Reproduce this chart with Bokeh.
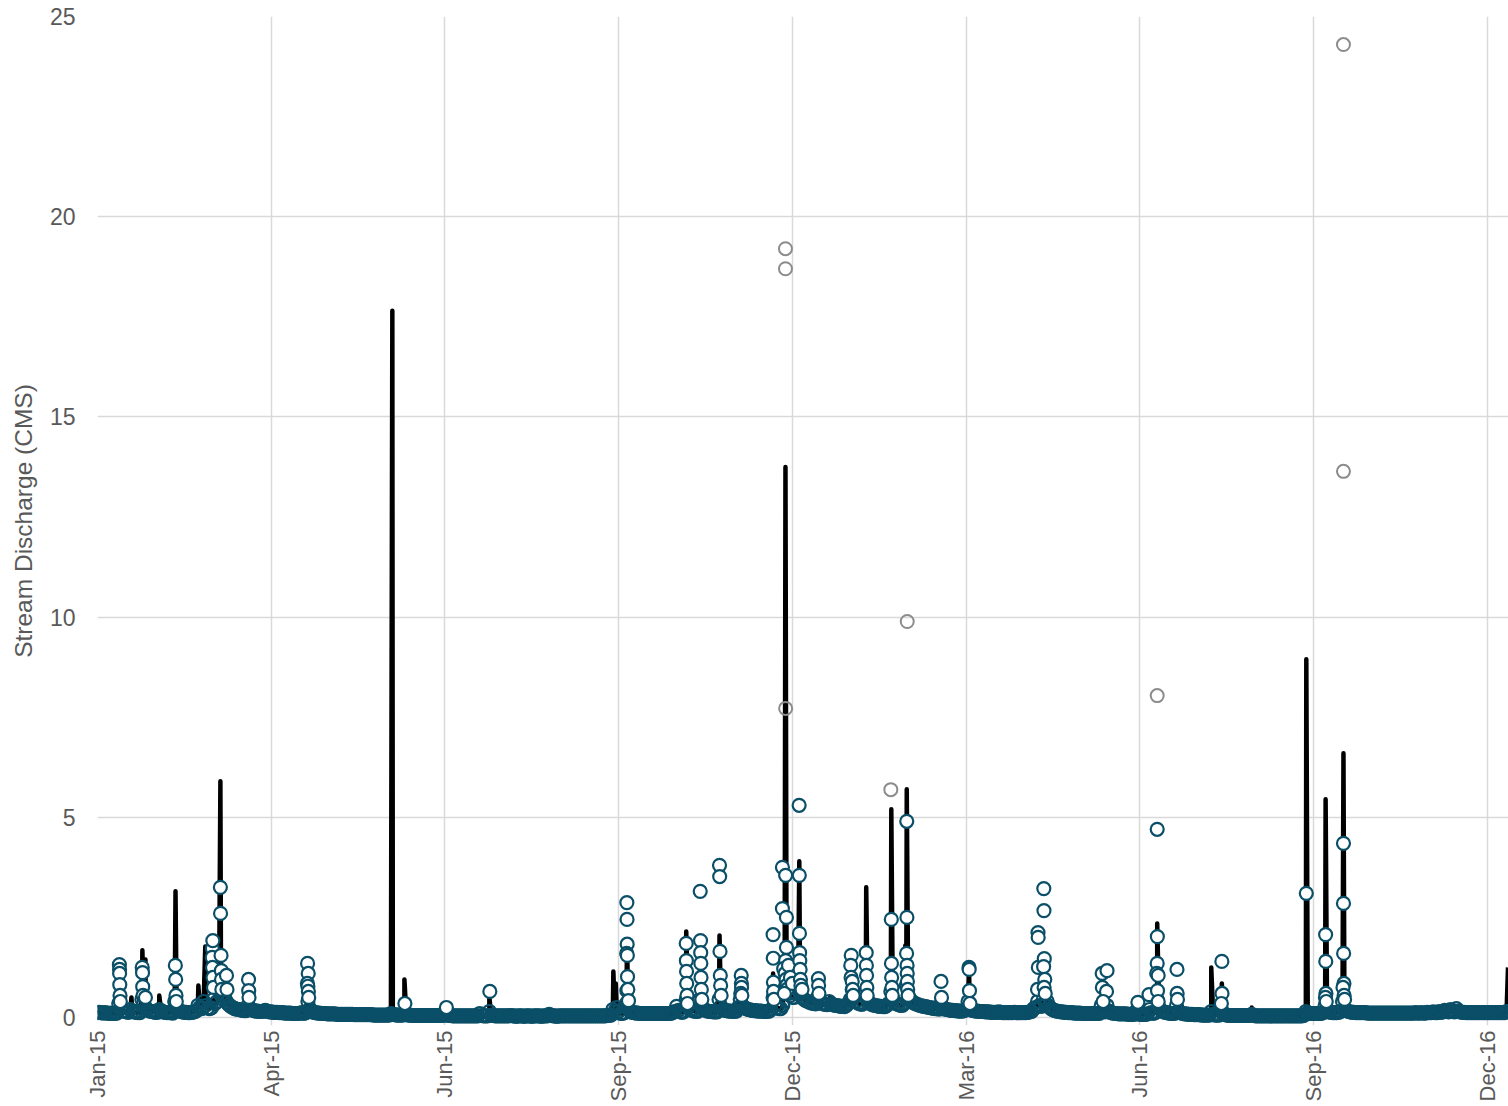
import pandas as pd
from math import pi
from bokeh.plotting import figure
from bokeh.models import Range1d, FixedTicker, ColumnDataSource
from bokeh.embed import file_html
from bokeh.resources import INLINE

# ---------------- data ----------------
# daily baseline discharge (CMS), one list per month
baseline_2015 = [
    [0.12,0.13,0.12,0.11,0.12,0.11,0.10,0.11,0.10,0.10,0.11,0.35,0.22,0.17,0.15,0.14,0.13,0.20,0.16,0.14,0.13,0.12,0.12,0.45,0.35,0.24,0.19,0.16,0.15,0.14,0.13],
    [0.13,0.20,0.16,0.14,0.13,0.12,0.12,0.12,0.11,0.40,0.25,0.18,0.15,0.14,0.13,0.13,0.12,0.12,0.13,0.14,0.16,0.30,0.25,0.22,0.40,0.30,0.24,0.22],
    [0.24,0.45,0.35,0.40,0.80,0.55,0.45,0.50,0.38,0.32,0.28,0.25,0.22,0.21,0.20,0.19,0.18,0.17,0.17,0.30,0.22,0.19,0.17,0.16,0.16,0.15,0.15,0.16,0.18,0.15,0.14],
    [0.14,0.13,0.13,0.13,0.12,0.12,0.12,0.11,0.11,0.11,0.11,0.10,0.10,0.10,0.10,0.11,0.12,0.10,0.12,0.40,0.22,0.16,0.13,0.12,0.11,0.11,0.10,0.10,0.10,0.09],
    [0.09,0.09,0.09,0.09,0.08,0.08,0.08,0.08,0.08,0.08,0.08,0.08,0.08,0.07,0.07,0.07,0.07,0.07,0.07,0.07,0.07,0.07,0.07,0.06,0.06,0.06,0.06,0.06,0.06,0.06,0.06],
    [0.06,0.10,0.08,0.07,0.06,0.06,0.06,0.06,0.12,0.08,0.06,0.06,0.05,0.05,0.05,0.05,0.05,0.05,0.05,0.05,0.05,0.05,0.05,0.05,0.05,0.05,0.05,0.05,0.05,0.12],
    [0.06,0.05,0.05,0.04,0.04,0.04,0.04,0.04,0.04,0.04,0.04,0.04,0.04,0.04,0.04,0.04,0.04,0.10,0.05,0.04,0.04,0.04,0.15,0.06,0.05,0.04,0.04,0.04,0.04,0.04,0.04],
    [0.04,0.04,0.05,0.04,0.04,0.03,0.04,0.04,0.04,0.03,0.04,0.04,0.04,0.03,0.04,0.04,0.04,0.04,0.03,0.04,0.04,0.04,0.08,0.05,0.04,0.04,0.03,0.04,0.04,0.04,0.04],
    [0.04,0.04,0.04,0.04,0.04,0.04,0.04,0.04,0.04,0.04,0.04,0.04,0.04,0.04,0.04,0.04,0.04,0.04,0.04,0.04,0.04,0.05,0.05,0.06,0.20,0.15,0.25,0.15,0.10,0.10],
    [0.12,0.35,0.20,0.15,0.13,0.12,0.11,0.11,0.10,0.10,0.10,0.10,0.10,0.10,0.10,0.10,0.10,0.10,0.10,0.10,0.10,0.10,0.10,0.10,0.10,0.12,0.15,0.28,0.18,0.14,0.13],
    [0.15,0.45,0.25,0.20,0.18,0.16,0.15,0.15,0.45,0.28,0.22,0.18,0.16,0.15,0.15,0.14,0.14,0.14,0.45,0.28,0.20,0.18,0.17,0.16,0.16,0.15,0.15,0.16,0.25,0.45],
    [0.30,0.25,0.22,0.20,0.19,0.18,0.17,0.17,0.16,0.16,0.16,0.15,0.15,0.15,0.16,0.20,0.50,0.30,0.25,0.22,0.22,0.30,0.90,0.70,0.60,0.55,0.50,0.50,0.60,0.90,0.60],
]
baseline_2016 = [
    [0.50,0.45,0.42,0.40,0.38,0.36,0.35,0.34,0.50,0.40,0.36,0.34,0.33,0.32,0.40,0.34,0.32,0.30,0.30,0.29,0.28,0.28,0.27,0.30,0.35,0.45,0.70,0.50,0.40,0.36,0.34],
    [0.33,0.36,0.60,0.42,0.36,0.33,0.31,0.30,0.29,0.28,0.28,0.27,0.27,0.30,0.35,0.65,0.45,0.38,0.34,0.32,0.30,0.30,0.35,0.80,0.55,0.45,0.40,0.36,0.34],
    [0.32,0.30,0.29,0.28,0.27,0.26,0.25,0.24,0.23,0.22,0.22,0.21,0.35,0.25,0.21,0.20,0.19,0.18,0.18,0.17,0.17,0.16,0.16,0.16,0.17,0.20,0.40,0.22,0.18,0.17,0.16],
    [0.16,0.15,0.15,0.15,0.14,0.14,0.14,0.13,0.13,0.13,0.13,0.14,0.13,0.12,0.12,0.12,0.12,0.12,0.12,0.13,0.12,0.12,0.12,0.12,0.12,0.12,0.13,0.14,0.15,0.22],
    [0.25,0.40,0.30,0.28,0.45,0.35,0.40,0.28,0.22,0.19,0.17,0.16,0.15,0.14,0.14,0.13,0.13,0.12,0.12,0.12,0.11,0.11,0.11,0.11,0.10,0.10,0.10,0.10,0.10,0.10,0.10],
    [0.10,0.10,0.10,0.30,0.18,0.14,0.30,0.16,0.12,0.11,0.10,0.10,0.09,0.09,0.09,0.09,0.09,0.08,0.08,0.08,0.08,0.15,0.10,0.08,0.08,0.08,0.08,0.09,0.20,0.12],
    [0.10,0.12,0.45,0.25,0.18,0.15,0.13,0.12,0.11,0.10,0.10,0.10,0.30,0.15,0.12,0.10,0.09,0.09,0.08,0.08,0.08,0.07,0.07,0.07,0.07,0.06,0.06,0.06,0.06,0.06,0.15],
    [0.08,0.06,0.06,0.06,0.25,0.12,0.08,0.06,0.05,0.05,0.05,0.05,0.05,0.05,0.05,0.05,0.05,0.05,0.05,0.05,0.08,0.05,0.04,0.04,0.04,0.04,0.04,0.04,0.04,0.04,0.04],
    [0.04,0.04,0.04,0.04,0.04,0.04,0.04,0.04,0.04,0.04,0.04,0.04,0.04,0.04,0.04,0.04,0.05,0.15,0.12,0.10,0.10,0.10,0.10,0.10,0.10,0.10,0.12,0.30,0.18,0.14],
    [0.13,0.12,0.12,0.12,0.13,0.15,0.40,0.22,0.17,0.15,0.14,0.13,0.13,0.12,0.12,0.12,0.12,0.12,0.12,0.11,0.11,0.11,0.11,0.11,0.11,0.11,0.11,0.11,0.11,0.11,0.11],
    [0.11,0.11,0.11,0.11,0.11,0.11,0.11,0.11,0.11,0.11,0.11,0.11,0.11,0.12,0.11,0.11,0.12,0.11,0.11,0.13,0.12,0.12,0.14,0.12,0.12,0.15,0.13,0.14,0.18,0.15],
    [0.14,0.20,0.15,0.14,0.22,0.16,0.14,0.13,0.13,0.12,0.12,0.12,0.12,0.12,0.12,0.12,0.12,0.12,0.12,0.12,0.12,0.12,0.12,0.12,0.12,0.12,0.12,0.12,0.12,0.12,0.15],
]

# storm-flow observations (teal markers)
storm_dates = [
    "2015-01-12 08:00","2015-01-12 10:00","2015-01-12 11:00","2015-01-12 13:00","2015-01-12 16:00","2015-01-12 20:00",
    "2015-01-24 04:00","2015-01-24 08:00","2015-01-24 10:00","2015-01-24 14:00","2015-01-25 20:00",
    "2015-02-10 08:00","2015-02-10 12:00","2015-02-10 16:00","2015-02-10 20:00",
    "2015-03-01 12:00","2015-03-01 18:00","2015-03-01 10:00","2015-03-01 14:00","2015-03-01 20:00","2015-03-02 02:00",
    "2015-03-05 16:00","2015-03-05 18:00","2015-03-06 00:00","2015-03-06 04:00","2015-03-06 06:00","2015-03-06 10:00",
    "2015-03-08 20:00","2015-03-09 02:00",
    "2015-03-20 06:00","2015-03-20 08:00","2015-03-20 12:00",
    "2015-04-19 20:00","2015-04-20 04:00","2015-04-19 18:00","2015-04-20 00:00","2015-04-20 06:00","2015-04-20 10:00",
    "2015-06-09 06:00","2015-06-30 18:00","2015-07-23 06:00",
    "2015-10-02 06:00","2015-10-02 08:00","2015-10-02 10:00","2015-10-02 04:00","2015-10-02 12:00","2015-10-02 14:00","2015-10-02 06:00","2015-10-02 18:00","2015-10-03 02:00",
    "2015-11-02 00:00","2015-11-02 02:00","2015-11-02 04:00","2015-11-02 06:00","2015-11-02 10:00","2015-11-02 16:00",
    "2015-11-09 06:00","2015-11-09 10:00","2015-11-09 12:00","2015-11-09 14:00","2015-11-09 16:00","2015-11-09 20:00","2015-11-10 02:00",
    "2015-11-19 06:00","2015-11-19 08:00","2015-11-19 12:00","2015-11-19 16:00","2015-11-19 20:00","2015-11-20 02:00",
    "2015-11-30 12:00","2015-11-30 14:00","2015-11-30 16:00","2015-11-30 06:00","2015-11-30 20:00",
    "2015-12-17 00:00","2015-12-17 02:00","2015-12-17 04:00","2015-12-17 06:00","2015-12-17 10:00",
    "2015-12-21 20:00","2015-12-21 20:00","2015-12-23 12:00","2015-12-23 22:00","2015-12-23 22:00","2015-12-23 12:00",
    "2015-12-22 12:00","2015-12-23 06:00","2015-12-23 18:00","2015-12-24 02:00","2015-12-24 06:00","2015-12-22 20:00",
    "2015-12-25 00:00","2015-12-26 00:00","2015-12-27 00:00",
    "2015-12-30 12:00","2015-12-30 14:00","2015-12-30 16:00","2015-12-30 18:00","2015-12-30 20:00","2015-12-31 00:00","2015-12-31 04:00","2015-12-31 10:00","2016-01-01 00:00",
    "2016-01-09 12:00","2016-01-09 14:00","2016-01-09 18:00",
    "2016-01-26 12:00","2016-01-26 06:00","2016-01-26 10:00","2016-01-27 00:00","2016-01-27 06:00","2016-01-27 12:00",
    "2016-02-03 06:00","2016-02-03 08:00","2016-02-03 10:00","2016-02-03 14:00","2016-02-03 18:00",
    "2016-02-16 06:00","2016-02-16 08:00","2016-02-16 10:00","2016-02-16 14:00","2016-02-16 18:00",
    "2016-02-24 06:00","2016-02-24 08:00","2016-02-24 04:00","2016-02-24 10:00","2016-02-24 12:00","2016-02-24 14:00","2016-02-24 18:00","2016-02-25 00:00",
    "2016-03-13 00:00","2016-03-13 06:00",
    "2016-03-27 12:00","2016-03-27 14:00","2016-03-27 18:00","2016-03-28 00:00",
    "2016-05-02 06:00","2016-05-02 08:00","2016-05-02 10:00","2016-05-02 00:00",
    "2016-05-05 06:00","2016-05-05 08:00","2016-05-05 12:00","2016-05-05 04:00","2016-05-05 18:00","2016-05-05 10:00","2016-05-06 00:00",
    "2016-06-04 12:00","2016-06-07 00:00","2016-06-04 14:00","2016-06-06 18:00","2016-06-05 00:00",
    "2016-06-23 00:00","2016-06-28 18:00",
    "2016-07-03 00:00","2016-07-03 02:00","2016-07-03 00:00","2016-07-02 18:00","2016-07-03 12:00","2016-07-03 04:00","2016-07-03 12:00",
    "2016-07-13 06:00","2016-07-13 08:00","2016-07-13 12:00",
    "2016-08-05 12:00","2016-08-05 14:00","2016-08-05 06:00",
    "2016-09-18 06:00",
    "2016-09-28 06:00","2016-09-28 08:00","2016-09-28 10:00","2016-09-28 04:00","2016-09-28 14:00",
    "2016-10-07 12:00","2016-10-07 12:00","2016-10-07 14:00","2016-10-07 18:00","2016-10-07 06:00","2016-10-07 20:00","2016-10-08 02:00",
]
storm_values = [
    1.32,1.20,1.10,0.82,0.55,0.40,
    1.25,1.12,0.77,0.55,0.50,
    1.30,0.95,0.55,0.40,
    1.72,1.92,1.50,1.25,1.00,0.75,
    3.25,2.60,1.55,1.17,0.95,0.70,
    1.05,0.70,
    0.95,0.67,0.50,
    1.35,1.10,0.85,0.78,0.65,0.50,
    0.35,0.25,0.65,
    2.87,2.45,1.83,1.60,1.55,1.02,0.67,0.70,0.42,
    1.85,1.42,1.15,0.85,0.55,0.35,
    3.15,1.92,1.62,1.35,1.00,0.70,0.45,
    3.80,3.52,1.65,1.05,0.80,0.55,
    1.05,0.85,0.75,0.60,0.55,
    2.07,1.48,0.88,0.65,0.45,
    3.75,2.72,3.55,2.50,1.75,1.42,
    1.22,1.10,0.95,0.80,0.70,0.60,
    1.30,1.00,0.85,
    5.30,3.55,2.10,1.62,1.42,1.20,0.95,0.80,0.70,
    0.97,0.80,0.60,
    1.55,1.30,1.00,0.90,0.70,0.55,
    1.62,1.30,1.05,0.75,0.55,
    2.45,1.35,1.00,0.75,0.55,
    4.90,2.50,1.60,1.30,1.10,0.90,0.70,0.55,
    0.90,0.50,
    1.25,1.20,0.67,0.35,
    2.12,2.00,1.25,0.70,
    3.22,2.67,1.47,1.27,0.95,0.75,0.60,
    1.10,1.17,0.75,0.65,0.40,
    0.38,0.57,
    4.70,2.02,1.35,1.10,1.05,0.67,0.40,
    1.20,0.60,0.45,
    1.40,0.60,0.35,
    3.10,
    2.07,1.40,0.60,0.50,0.40,
    4.35,2.85,1.60,0.85,0.75,0.55,0.45,
]

# continuous-record storm peaks (black line)
peak_dates = [
    "2015-01-12 10:00","2015-01-18 14:00","2015-01-24 06:00","2015-01-25 20:00","2015-02-02 00:00",
    "2015-02-10 10:00","2015-02-22 06:00","2015-02-25 20:00","2015-03-05 16:00","2015-03-08 18:00",
    "2015-03-20 06:00","2015-04-20 06:00","2015-06-02 18:00","2015-06-09 00:00","2015-07-23 00:00",
    "2015-09-25 06:00","2015-09-26 12:00","2015-10-02 08:00","2015-11-02 00:00","2015-11-09 06:00",
    "2015-11-19 06:00","2015-11-30 12:00","2015-12-17 00:00","2015-12-23 10:00","2015-12-30 14:00",
    "2016-01-09 12:00","2016-01-15 12:00","2016-01-26 12:00","2016-02-03 06:00","2016-02-16 06:00",
    "2016-02-23 12:00","2016-02-24 06:00","2016-03-13 00:00","2016-03-27 12:00","2016-05-05 06:00",
    "2016-06-04 12:00","2016-07-03 00:00","2016-07-31 00:00","2016-08-05 12:00","2016-08-21 00:00",
    "2016-09-18 06:00","2016-09-28 06:00","2016-10-07 12:00","2016-12-31 18:00",
]
peak_values = [
    1.30,0.50,1.68,1.45,0.55,
    3.15,0.80,1.77,5.90,1.10,
    0.50,0.60,17.65,0.95,0.50,
    1.15,0.85,1.85,2.15,1.90,
    2.05,0.50,1.10,13.75,3.90,
    0.55,0.50,0.90,3.25,5.20,
    1.80,5.70,0.50,1.20,0.95,
    0.65,2.35,1.25,0.85,0.25,
    8.95,5.45,6.60,1.25,
]

# flagged observations (grey markers)
flag_dates = ["2015-12-23 10:00","2015-12-23 10:00","2015-12-23 12:00","2016-02-16 00:00",
              "2016-02-24 12:00","2016-07-03 00:00","2016-10-07 12:00","2016-10-07 12:00"]
flag_values = [19.20, 18.70, 7.72, 5.69, 9.89, 8.04, 24.30, 13.64]

x_tick_dates = ["2015-01-01","2015-04-01","2015-06-30","2015-09-28","2015-12-27",
                "2016-03-26","2016-06-24","2016-09-22","2016-12-21"]
x_tick_labels = ["Jan-15","Apr-15","Jun-15","Sep-15","Dec-15","Mar-16","Jun-16","Sep-16","Dec-16"]
y_ticks = [0, 5, 10, 15, 20, 25]
y_label = "Stream Discharge (CMS)"

# ---------------- build sources ----------------
def daily(year, months):
    d, v = [], []
    for m, vals in enumerate(months, start=1):
        start = pd.Timestamp(year=year, month=m, day=1)
        for i, val in enumerate(vals):
            d.append(start + pd.Timedelta(days=i))
            v.append(val)
    return d, v

d15, v15 = daily(2015, baseline_2015)
d16, v16 = daily(2016, baseline_2016)
base_dates = d15 + d16
base_vals = v15 + v16

line_df = pd.DataFrame({
    "x": base_dates + list(pd.to_datetime(peak_dates)),
    "y": base_vals + peak_values,
}).sort_values("x", kind="stable")

base_src = ColumnDataSource(dict(x=base_dates, y=base_vals))
storm_src = ColumnDataSource(dict(x=list(pd.to_datetime(storm_dates)), y=storm_values))
flag_src = ColumnDataSource(dict(x=list(pd.to_datetime(flag_dates)), y=flag_values))
line_src = ColumnDataSource(dict(x=list(line_df["x"]), y=list(line_df["y"])))

# ---------------- figure ----------------
FONT = "Liberation Sans"
TXT = "#595959"
GRID = "#d9d9d9"
TEAL = "#0a4f67"

# the frame extends a little below zero so markers sitting on the baseline are not clipped
p = figure(width=1508, height=1106, x_axis_type="datetime",
           x_range=Range1d(pd.Timestamp("2015-01-01"), pd.Timestamp("2017-01-01")),
           y_range=Range1d(-0.2, 25),
           output_backend="svg", toolbar_location=None,
           min_border_left=97, min_border_right=0, min_border_top=16, min_border_bottom=81)
p.outline_line_color = None
p.background_fill_color = "white"
p.border_fill_color = "white"

tick_ms = [float(pd.Timestamp(t).value // 10**6) for t in x_tick_dates]
p.xaxis.ticker = FixedTicker(ticks=tick_ms)
p.xaxis.major_label_overrides = {t: lab for t, lab in zip(tick_ms, x_tick_labels)}
p.xaxis.major_label_orientation = pi / 2
p.xaxis.major_label_standoff = 5
p.xaxis.major_label_text_font = FONT
p.xaxis.major_label_text_font_size = "22px"
p.xaxis.major_label_text_color = TXT
p.xaxis.axis_line_color = None
p.xaxis.major_tick_line_color = None
p.xaxis.minor_tick_line_color = None
p.xaxis.major_tick_out = 0
p.xaxis.major_tick_in = 0
p.xaxis.minor_tick_out = 0
p.xaxis.minor_tick_in = 0
p.xgrid.ticker = FixedTicker(ticks=tick_ms)
p.xgrid.grid_line_color = GRID
p.xgrid.grid_line_width = 1.5

p.yaxis.ticker = FixedTicker(ticks=y_ticks)
p.yaxis.axis_line_color = None
p.yaxis.major_tick_line_color = None
p.yaxis.minor_tick_line_color = None
p.yaxis.major_tick_out = 0
p.yaxis.major_tick_in = 0
p.yaxis.minor_tick_out = 0
p.yaxis.minor_tick_in = 0
p.yaxis.major_label_standoff = 22
p.yaxis.major_label_text_font = FONT
p.yaxis.major_label_text_font_size = "23px"
p.yaxis.major_label_text_color = TXT
p.yaxis.axis_label = y_label
p.yaxis.axis_label_text_font = FONT
p.yaxis.axis_label_text_font_size = "24.5px"
p.yaxis.axis_label_text_font_style = "normal"
p.yaxis.axis_label_text_color = TXT
p.yaxis.axis_label_standoff = 10
p.ygrid.ticker = FixedTicker(ticks=y_ticks)
p.ygrid.grid_line_color = GRID
p.ygrid.grid_line_width = 1.5

p.line("x", "y", source=line_src, line_color="black", line_width=4.5, line_join="round")
# dense baseline record: open rings that merge into a solid band
p.scatter("x", "y", source=base_src, marker="circle", size=13, line_color=TEAL,
          line_width=2.2, fill_alpha=0)
p.scatter("x", "y", source=storm_src, marker="circle", size=13, line_color=TEAL,
          line_width=2.2, fill_color="white")
p.scatter("x", "y", source=flag_src, marker="circle", size=13, line_color="#8c8c8c",
          line_width=2, fill_alpha=0)

open("out.html", "w").write(file_html(p, INLINE))
